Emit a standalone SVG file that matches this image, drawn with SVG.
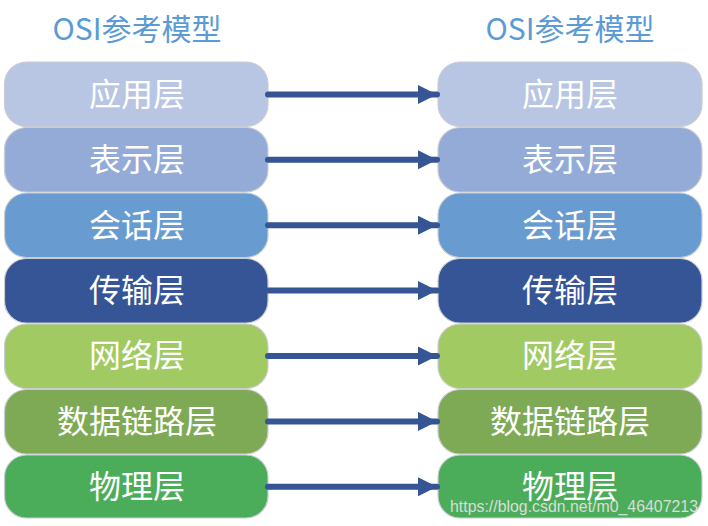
<svg xmlns="http://www.w3.org/2000/svg" width="708" height="526" viewBox="0 0 708 526">
<defs>
<style>
.title{font-family:"Noto Sans CJK SC","Noto Sans",sans-serif;font-size:30px;fill:#5B9BD5;text-anchor:middle}
.lbl{font-family:"Noto Sans CJK SC",sans-serif;font-size:32px;fill:#ffffff;text-anchor:middle}
.box{stroke:#c9ccd2;stroke-width:1.2}
.conn{stroke:#355595;stroke-width:6;stroke-linecap:round;fill:none}
.wm{font-family:"Liberation Sans",Arial,sans-serif;font-size:17px;fill:#ffffff;fill-opacity:0.8;stroke:#9a9a9a;stroke-opacity:0.35;stroke-width:0.6}
</style>
<marker id="ah" markerWidth="3.2" markerHeight="3.2" refX="3.2" refY="1.6" orient="auto" markerUnits="strokeWidth" viewBox="0 0 3.2 3.2">
<path d="M0,0 L3.2,1.6 L0,3.2 Z" fill="#355595"/>
</marker>
</defs>
<rect width="708" height="526" fill="#ffffff"/>
<text class="title" x="137" y="40">OSI参考模型</text>
<text class="title" x="570" y="40">OSI参考模型</text>

<g id="L1"><rect class="box" x="4.5" y="62" width="263.5" height="64.5" rx="22" fill="#B8C6E3"/><text class="lbl" x="137" y="106">应用层</text></g>
<g id="L2"><rect class="box" x="4.5" y="127.5" width="263.5" height="64.5" rx="22" fill="#95ABD7"/><text class="lbl" x="137" y="171">表示层</text></g>
<g id="L3"><rect class="box" x="4.5" y="193" width="263.5" height="64.5" rx="22" fill="#689CD1"/><text class="lbl" x="137" y="237">会话层</text></g>
<g id="L4"><rect class="box" x="4.5" y="258.5" width="263.5" height="64.5" rx="22" fill="#355596"/><text class="lbl" x="137" y="302">传输层</text></g>
<g id="L5"><rect class="box" x="4.5" y="324" width="263.5" height="64.5" rx="22" fill="#A2CA62"/><text class="lbl" x="137" y="367">网络层</text></g>
<g id="L6"><rect class="box" x="4.5" y="389.5" width="263.5" height="64.5" rx="22" fill="#7FAA55"/><text class="lbl" x="137" y="433">数据链路层</text></g>
<g id="L7"><rect class="box" x="4.5" y="455" width="263.5" height="63" rx="22" fill="#4BAD59"/><text class="lbl" x="137" y="498">物理层</text></g>

<g id="R1"><rect class="box" x="438" y="62" width="264" height="64.5" rx="22" fill="#B8C6E3"/><text class="lbl" x="570" y="106">应用层</text></g>
<g id="R2"><rect class="box" x="438" y="127.5" width="264" height="64.5" rx="22" fill="#95ABD7"/><text class="lbl" x="570" y="171">表示层</text></g>
<g id="R3"><rect class="box" x="438" y="193" width="264" height="64.5" rx="22" fill="#689CD1"/><text class="lbl" x="570" y="237">会话层</text></g>
<g id="R4"><rect class="box" x="438" y="258.5" width="264" height="64.5" rx="22" fill="#355596"/><text class="lbl" x="570" y="302">传输层</text></g>
<g id="R5"><rect class="box" x="438" y="324" width="264" height="64.5" rx="22" fill="#A2CA62"/><text class="lbl" x="570" y="367">网络层</text></g>
<g id="R6"><rect class="box" x="438" y="389.5" width="264" height="64.5" rx="22" fill="#7FAA55"/><text class="lbl" x="570" y="433">数据链路层</text></g>
<g id="R7"><rect class="box" x="438" y="455" width="264" height="63" rx="22" fill="#4BAD59"/><text class="lbl" x="570" y="498">物理层</text></g>

<g id="connectors">
<line class="conn" x1="268" y1="94.5" x2="437" y2="94.5" marker-end="url(#ah)"/>
<line class="conn" x1="268" y1="159.8" x2="437" y2="159.8" marker-end="url(#ah)"/>
<line class="conn" x1="268" y1="225.2" x2="437" y2="225.2" marker-end="url(#ah)"/>
<line class="conn" x1="268" y1="290.6" x2="437" y2="290.6" marker-end="url(#ah)"/>
<line class="conn" x1="268" y1="356" x2="437" y2="356" marker-end="url(#ah)"/>
<line class="conn" x1="268" y1="421.4" x2="437" y2="421.4" marker-end="url(#ah)"/>
<line class="conn" x1="268" y1="486.8" x2="437" y2="486.8" marker-end="url(#ah)"/>
</g>
<text class="wm" x="450" y="512" textLength="248" lengthAdjust="spacingAndGlyphs">https://blog.csdn.net/m0_46407213</text>
</svg>
